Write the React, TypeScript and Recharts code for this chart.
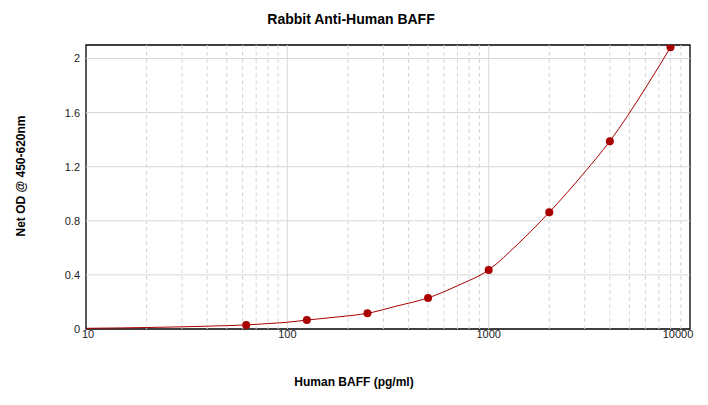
import React from 'react'
import {
  LineChart,
  Line,
  XAxis,
  YAxis,
  ReferenceLine,
  ReferenceArea,
} from 'recharts'

// standards (pg/ml) and measured OD
const standardConc = [62.5, 125, 250, 500, 1000, 2000, 4000, 8000]
const standardOd = [0.03, 0.066, 0.116, 0.23, 0.437, 0.863, 1.389, 2.083]

// fitted curve
const curveConc = [10, 15, 20, 30, 40, 62.5, 80, 100, 125, 180, 250, 350, 500, 700, 1000, 1400, 2000, 3000, 4000, 6000, 8000]
const curveOd = [0.005, 0.008, 0.011, 0.016, 0.021, 0.03, 0.04, 0.05, 0.066, 0.09, 0.116, 0.17, 0.23, 0.32, 0.437, 0.63, 0.863, 1.16, 1.389, 1.78, 2.083]

const xTicks = [10, 100, 1000, 10000]
const yTicks = [0, 0.4, 0.8, 1.2, 1.6, 2]
const majorX = [100, 1000]
const minorX = [20, 30, 40, 50, 60, 70, 80, 90, 200, 300, 400, 500, 600, 700, 800, 900, 2000, 3000, 4000, 5000, 6000, 7000, 8000, 9000]

const points = standardConc.map((c, i) => ({ conc: c, od: standardOd[i] }))
const curve = curveConc.map((c, i) => ({ conc: c, od: curveOd[i] }))

const RED = '#a80000'
const GRID = '#d6d6d6'
const FONT = '"Liberation Sans", Arial, sans-serif'

const XTick = (props: any) => {
  const { x, y, payload } = props
  const dx = payload.value === 10000 ? -10 : payload.value === 10 ? 2 : 0
  return (
    <text x={x + dx} y={y} dy={9} textAnchor="middle" fontSize={11} fontFamily={FONT} fill="#222">
      {payload.value}
    </text>
  )
}

export default function App() {
  return (
    <div style={{ position: 'absolute', left: 0, top: 0, width: 708, height: 405, background: '#fff', fontFamily: FONT }}>
      <div style={{ position: 'absolute', top: 11, left: 0, width: 702, textAlign: 'center', fontSize: 14, fontWeight: 'bold', color: '#000' }}>
        Rabbit Anti-Human BAFF
      </div>
      <div
        style={{
          position: 'absolute',
          left: 21,
          top: 176,
          transform: 'translate(-50%, -50%) rotate(-90deg)',
          whiteSpace: 'nowrap',
          fontSize: 12,
          fontWeight: 'bold',
          color: '#000',
        }}
      >
        Net OD @ 450-620nm
      </div>
      <div style={{ position: 'absolute', top: 375, left: 0, width: 708, textAlign: 'center', fontSize: 12, fontWeight: 'bold', color: '#000' }}>
        Human BAFF (pg/ml)
      </div>

      <LineChart width={708} height={405} margin={{ top: 45, right: 18, bottom: 46, left: 26 }}>
        <XAxis
          dataKey="conc"
          type="number"
          scale="log"
          domain={[10, 10000]}
          ticks={xTicks}
          allowDataOverflow
          axisLine={false}
          tickLine={false}
          tickSize={0}
          tickMargin={0}
          height={30}
          tick={<XTick />}
        />
        <YAxis
          type="number"
          domain={[0, 2.1]}
          ticks={yTicks}
          allowDataOverflow
          axisLine={false}
          tickLine={false}
          tickSize={0}
          tickMargin={6}
          width={60}
          tick={{ fontSize: 11, fontFamily: FONT, fill: '#222' }}
        />
        {minorX.map((v) => (
          <ReferenceLine key={'m' + v} x={v} stroke={GRID} strokeDasharray="4 3" />
        ))}
        {majorX.map((v) => (
          <ReferenceLine key={'M' + v} x={v} stroke={GRID} />
        ))}
        {yTicks.slice(1).map((v) => (
          <ReferenceLine key={'h' + v} y={v} stroke={GRID} />
        ))}
        <Line
          data={curve}
          dataKey="od"
          type="monotone"
          stroke={RED}
          strokeWidth={1}
          dot={false}
          isAnimationActive={false}
        />
        <Line
          data={points}
          dataKey="od"
          stroke="none"
          dot={{ r: 4, fill: RED, stroke: RED, strokeWidth: 0 }}
          activeDot={false}
          isAnimationActive={false}
        />
        <ReferenceArea x1={10} x2={10000} y1={0} y2={2.1} fill="none" stroke="#000" strokeWidth={1.3} ifOverflow="visible" />
      </LineChart>
    </div>
  )
}
